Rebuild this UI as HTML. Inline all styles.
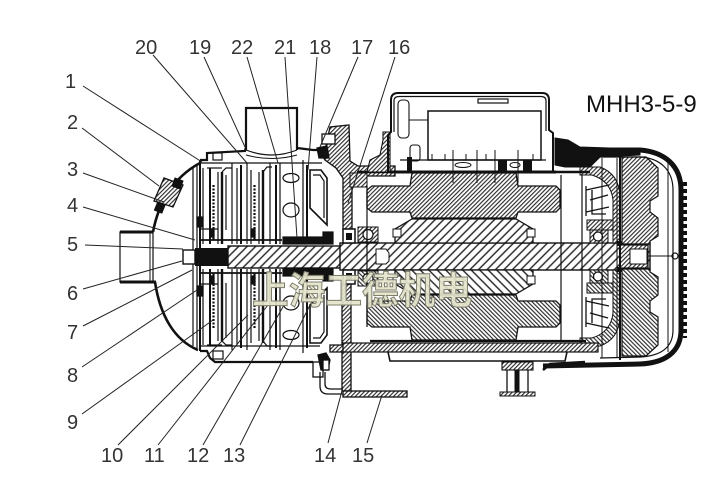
<!DOCTYPE html>
<html><head><meta charset="utf-8"><style>
html,body{margin:0;padding:0;background:#fff;}
svg{display:block;}
.lb{font-family:"Liberation Sans",sans-serif;font-size:20px;fill:#333;}
</style></head><body>
<svg width="726" height="499" viewBox="0 0 726 499" xmlns="http://www.w3.org/2000/svg">
<defs>
<pattern id="h" width="3" height="3" patternUnits="userSpaceOnUse" patternTransform="rotate(45)"><rect width="3" height="3" fill="#fff"/><line x1="0.6" y1="0" x2="0.6" y2="3" stroke="#222" stroke-width="1.1"/></pattern>
<pattern id="hr" width="6" height="6" patternUnits="userSpaceOnUse" patternTransform="rotate(45)"><rect width="6" height="6" fill="#fff"/><line x1="1" y1="0" x2="1" y2="6" stroke="#222" stroke-width="1.4"/></pattern>

<g id="pumpU" stroke="#111" fill="none" stroke-width="1.2">
 <line x1="200" y1="229" x2="218" y2="229"/>
 <line x1="200" y1="240" x2="282" y2="240" stroke-width="1.8"/>
 <line x1="203" y1="168" x2="203" y2="244"/>
 <line x1="207" y1="168" x2="222" y2="168"/>
 <line x1="210" y1="168" x2="210" y2="244" stroke-width="2"/>
 <line x1="213.5" y1="185" x2="213.5" y2="240" stroke-dasharray="2,1.5" stroke-width="2.2"/>
 <line x1="218" y1="172" x2="218" y2="244"/>
 <line x1="222" y1="172" x2="222" y2="244" stroke-width="2.4"/>
 <path d="M222,172 L226,168 L232,168"/>
 <line x1="226" y1="175" x2="226" y2="230"/>
 <line x1="232" y1="163" x2="232" y2="244"/>
 <line x1="237" y1="168" x2="237" y2="244"/>
 <line x1="241" y1="165" x2="241" y2="244" stroke-width="2"/>
 <line x1="247" y1="163" x2="247" y2="244"/>
 <line x1="251" y1="170" x2="251" y2="244"/>
 <line x1="254.5" y1="185" x2="254.5" y2="240" stroke-dasharray="2,1.5" stroke-width="2.2"/>
 <line x1="259" y1="172" x2="259" y2="244"/>
 <line x1="263" y1="170" x2="263" y2="244" stroke-width="2.4"/>
 <path d="M263,172 L267,167 L272,167"/>
 <line x1="270" y1="163" x2="270" y2="244"/>
 <line x1="276" y1="165" x2="276" y2="244" stroke-width="2"/>
 <line x1="280" y1="163" x2="280" y2="244"/>
 <ellipse cx="291" cy="178" rx="8" ry="4.5"/>
 <ellipse cx="291" cy="210" rx="8" ry="7"/>
 <line x1="303" y1="160" x2="303" y2="244"/>
 <line x1="307" y1="165" x2="307" y2="244" stroke-width="2"/>
 <path d="M310,170 L321,170 L327,178 L327,225 L310,208 Z" stroke-width="1.6"/>
 <path d="M313,175 L320,175 L324,181 L324,218"/>
 <rect x="197" y="217" width="6" height="10" fill="#111"/>
 <rect x="283" y="237" width="40" height="7" fill="#111"/>
 <rect x="323" y="232" width="10" height="12" fill="#111"/>
 <rect x="210" y="229" width="4" height="8" fill="#111"/>
 <rect x="251" y="229" width="4" height="8" fill="#111"/>
</g>

<g id="motorU">
 <path d="M367,190 L372,186 L410,186 L412,173 L516,173 L518,186 L556,186 L560,190 L560,208 L556,212 L518,212 L516,218 L412,218 L410,212 L372,212 L367,208 Z" fill="url(#h)" stroke="#111" stroke-width="1.3"/>
 <path d="M412,219 L516,219 L533,229 L533,243 L395,243 L395,229 Z" fill="url(#hr)" stroke="#111" stroke-width="1.3"/>
 <rect x="393" y="229" width="8" height="8" fill="#fff" stroke="#111"/>
 <rect x="527" y="229" width="8" height="8" fill="#fff" stroke="#111"/>
 <rect x="358" y="227" width="20" height="15" fill="url(#h)" stroke="#111"/>
 <circle cx="368" cy="234.5" r="5" fill="#fff" stroke="#111" stroke-width="1.2"/>
 <rect x="343" y="229" width="12" height="14" fill="#fff" stroke="#111" stroke-width="1.5"/>
 <rect x="346" y="233" width="6" height="7" fill="#111"/>
 <rect x="590" y="230" width="18" height="13" fill="url(#h)" stroke="#111"/>
 <circle cx="598" cy="236.5" r="4.5" fill="#fff" stroke="#111" stroke-width="1.2"/>
 <path d="M580,167 L600,167 Q619,174 620,196 L620,243 L613,243 L613,200 Q611,181 592,175 L580,175 Z" fill="url(#h)" stroke="#111"/>
 <path d="M587,220 L613,220 L613,230 L587,230 Z" fill="url(#h)" stroke="#111"/>
 <g stroke="#111" stroke-width="1.3" fill="none">
  <path d="M586,186 L586,216"/>
  <path d="M586,190 L609,185"/>
  <path d="M590,200 L608,195"/>
  <path d="M586,212 L609,207"/>
  <path d="M592,190 L592,214 L606,214"/>
 </g>
 <path d="M622,157 L646,157 L658,168 L658,196 L650,201 L650,212 L658,218 L658,236 L650,241 L650,244 L622,244 Z" fill="url(#h)" stroke="#111" stroke-width="1.2"/>
 <rect x="617" y="241" width="5" height="5" fill="#111"/>
</g>
</defs>

<!-- ============ PUMP ============ -->
<g stroke="#111" fill="none">
 <rect x="120" y="232" width="33" height="50" stroke-width="1.2" fill="#fff"/>
 <line x1="120" y1="232" x2="153" y2="232" stroke-width="3"/>
 <line x1="120" y1="282" x2="156" y2="282" stroke-width="3"/>
 <line x1="150" y1="232" x2="150" y2="282" stroke-width="1"/>
 <path d="M153,232 C158,205 172,178 200,163" stroke-width="2.6"/>
 <path d="M155,282 C160,315 174,340 198,350" stroke-width="2.6"/>
 <line x1="193" y1="166" x2="193" y2="346" stroke-width="1.2"/>
 <line x1="197" y1="164" x2="197" y2="348" stroke-width="1.2"/>
 <line x1="200" y1="160" x2="200" y2="351" stroke-width="2"/>
 <path d="M200,160 L207,160 L207,153 L245,151 L246,147" stroke-width="2.2"/>
 <path d="M297,148 L313,150 L322,150" stroke-width="2.2"/>
 <rect x="213" y="153" width="9" height="7" stroke-width="1.2"/>
 <line x1="200" y1="163" x2="322" y2="163" stroke-width="1.3"/>
 <path d="M246,150 L246,108 L297,108 L297,150" stroke-width="2.2" fill="#fff"/>
 <path d="M246,150 Q272,160 297,150" stroke-width="1.2"/>
 <path d="M246,155 Q272,162 297,155" stroke-width="1"/>
 <path d="M200,351 L207,351 L210,358 L215,362 L313,362" stroke-width="2.2"/>
 <line x1="200" y1="346" x2="320" y2="346" stroke-width="1.3"/>
 <rect x="213" y="351" width="10" height="8" stroke-width="1.2"/>
 <rect x="313" y="362" width="10" height="15" stroke-width="1.3"/>
 <path d="M154,201 L164,178 L183,185 L173,207 Z" fill="url(#h)" stroke-width="1.3"/>
 <path d="M175,178 L183,181 L180,189 L172,186 Z" fill="#111"/>
 <rect x="156" y="203" width="8" height="9" fill="#111" transform="rotate(22 160 207)"/>
</g>
<use href="#pumpU"/>
<use href="#pumpU" transform="matrix(1 0 0 -1 0 513)"/>

<!-- bracket -->
<g stroke="#111" stroke-width="1.3">
 <path d="M320,152 L326,146 L330,127 L349,125 L350,161 L358,166 L395,166 L395,176 L358,176 L352,180 L352,229 L343,229 L343,178 L336,168 L325,160 Z" fill="url(#h)"/>
 <rect x="322" y="134" width="13" height="10" fill="#fff"/>
 <path d="M317,148 L327,146 L329,158 L319,158 Z" fill="#111"/>
 <rect x="342" y="284" width="9" height="107" fill="url(#h)"/>
 <path d="M330,345 L343,345 L343,352 L330,352 Z" fill="url(#h)"/>
 <path d="M318,355 L326,353 L330,360 L328,370 L321,370 Z" fill="#111"/>
 <rect x="323" y="360" width="6" height="10" fill="#fff"/>
</g>
<g stroke="#111" fill="none" stroke-width="1.3">
 <path d="M320,372 L320,386 Q320,394 328,394 L345,394"/>
 <path d="M325,372 L325,384 Q325,389 331,389 L343,389"/>
 <rect x="343" y="391" width="64" height="6" fill="url(#h)"/>
</g>

<!-- shaft -->
<rect x="228" y="246" width="120" height="22" fill="url(#hr)" stroke="#111" stroke-width="1.4"/>
<rect x="340" y="243" width="310" height="27" fill="url(#hr)" stroke="#111" stroke-width="1.4"/>
<rect x="195" y="248" width="33" height="18" fill="#111"/>
<rect x="183" y="250" width="12" height="14" fill="#fff" stroke="#111" stroke-width="1.4"/>
<path d="M376,249 L386,249 L389,253 L389,261 L386,264 L376,264 Z" fill="#fff" stroke="#111"/>

<!-- motor -->
<use href="#motorU"/>
<use href="#motorU" transform="matrix(1 0 0 -1 0 513)"/>
<rect x="620" y="245" width="28" height="23" fill="url(#h)" stroke="#111" stroke-width="1.2"/>
<rect x="630" y="249" width="17" height="15" fill="#fff" stroke="#111"/>
<g stroke="#111" fill="none">
 <line x1="357" y1="172" x2="590" y2="172" stroke-width="2.5"/>
 <line x1="367" y1="186" x2="367" y2="327" stroke-width="1.2"/>
 <line x1="561" y1="175" x2="561" y2="340" stroke-width="1.2"/>
 <line x1="582" y1="175" x2="582" y2="340" stroke-width="1.2"/>
 <line x1="602" y1="158" x2="602" y2="358" stroke-width="1"/>
 <line x1="617" y1="158" x2="617" y2="358" stroke-width="1"/>
 <rect x="343" y="343" width="255" height="9" fill="url(#h)" stroke-width="1.2"/>
 <line x1="370" y1="341" x2="586" y2="341" stroke-width="2.2"/>
 <path d="M388,352 L390,361 L565,361 L567,352" stroke-width="1.6"/>
 <path d="M350,173 L367,173 L367,187 L350,187 Z" fill="url(#h)" stroke-width="1"/>
 <path d="M383,132 L390,132 L390,172 L367,172 L370,160 L380,155 L383,140 Z" fill="url(#h)" stroke-width="1.1"/>
 <rect x="502" y="362" width="31" height="8" fill="url(#h)" stroke-width="1.1"/>
 <line x1="507" y1="370" x2="507" y2="392" stroke-width="1.3"/>
 <line x1="528" y1="370" x2="528" y2="392" stroke-width="1.3"/>
 <rect x="515" y="370" width="4" height="22" fill="#111"/>
 <rect x="500" y="392" width="35" height="4" fill="url(#h)" stroke-width="1"/>
</g>

<!-- terminal box -->
<g stroke="#111" fill="none">
 <path d="M388,172 L388,135 L391,132 L391,100 Q391,93 398,93 L542,93 Q549,93 549,100 L549,130 L553,133 L553,172" stroke-width="2"/>
 <path d="M394,132 L394,101 Q394,96.5 399,96.5 L541,96.5 Q546,96.5 546,101 L546,131" stroke-width="1.2"/>
 <rect x="398" y="100" width="11" height="38" rx="4" stroke-width="1.1"/>
 <line x1="409" y1="120" x2="428" y2="120" stroke-width="1"/>
 <rect x="428" y="111" width="113" height="49" fill="#fff" stroke-width="1.5"/>
 <rect x="478" y="99" width="30" height="4" stroke-width="1.2"/>
 <line x1="400" y1="160" x2="546" y2="160" stroke-width="1.3"/>
 <rect x="410" y="145" width="10" height="16" rx="3" stroke-width="1.1"/>
 <line x1="390" y1="172" x2="556" y2="172" stroke-width="3"/>
 <g stroke-width="1">
  <line x1="432" y1="154" x2="432" y2="160"/><line x1="445" y1="154" x2="445" y2="160"/>
  <line x1="453" y1="150" x2="453" y2="183"/><line x1="466" y1="154" x2="466" y2="160"/>
  <line x1="477" y1="150" x2="477" y2="183"/><line x1="486" y1="154" x2="486" y2="160"/>
  <line x1="495" y1="150" x2="495" y2="183"/><line x1="518" y1="150" x2="518" y2="183"/>
  <line x1="533" y1="154" x2="533" y2="160"/>
 </g>
 <ellipse cx="463" cy="165" rx="8" ry="2.5" stroke-width="1"/>
 <ellipse cx="515" cy="165" rx="5" ry="2.5" stroke-width="1"/>
</g>
<rect x="498" y="160" width="9" height="12" fill="#111"/>
<rect x="523" y="160" width="9" height="12" fill="#111"/>
<rect x="407" y="157" width="5" height="15" fill="#111"/>

<!-- fan cover -->
<g stroke="#111" fill="none">
 <path d="M555,138 L568,140 L580,147 L640,149 L640,155 L600,157 L590,167 L565,167 L555,165 Z" fill="#111"/>
 <path d="M560,150 L640,150 C665,152 681,166 681,190 L681,330 C681,352 665,363 640,364 L543,366" stroke-width="5"/>
 <path d="M600,157 L640,157 C660,158 673,170 673,190 L673,330 C673,348 660,356 640,357 L600,358" stroke-width="1.2"/>
 <line x1="685" y1="182" x2="685" y2="338" stroke-width="4" stroke-dasharray="4,3"/>
 <line x1="620" y1="155" x2="620" y2="360" stroke-width="2"/>
 <line x1="668" y1="163" x2="668" y2="352" stroke-width="1"/>
 <line x1="648" y1="256" x2="672" y2="256" stroke-width="1"/>
 <circle cx="675" cy="256" r="3" stroke-width="1.2"/>
 <path d="M543,370 L550,364 L585,362" stroke-width="2.5"/>
</g>

<!-- leader lines -->
<g stroke="#222" stroke-width="1" fill="none">
 <line x1="83" y1="86" x2="202" y2="162"/>
 <line x1="82" y1="128" x2="159" y2="186"/>
 <line x1="83" y1="173" x2="164" y2="202"/>
 <line x1="83" y1="207" x2="195" y2="240"/>
 <line x1="85" y1="245" x2="183" y2="249"/>
 <line x1="83" y1="289" x2="182" y2="261"/>
 <line x1="83" y1="326" x2="192" y2="270"/>
 <line x1="82" y1="367" x2="197" y2="290"/>
 <line x1="82" y1="414" x2="213" y2="320"/>
 <line x1="118" y1="445" x2="248" y2="315"/>
 <line x1="158" y1="445" x2="268" y2="305"/>
 <line x1="203" y1="445" x2="287" y2="300"/>
 <line x1="240" y1="445" x2="310" y2="305"/>
 <line x1="328" y1="443" x2="343" y2="387"/>
 <line x1="367" y1="443" x2="382" y2="395"/>
 <line x1="153" y1="55" x2="247" y2="163"/>
 <line x1="204" y1="57" x2="245" y2="147"/>
 <line x1="247" y1="57" x2="278" y2="163"/>
 <line x1="285" y1="57" x2="297" y2="238"/>
 <line x1="317" y1="57" x2="308" y2="170"/>
 <line x1="358" y1="57" x2="320" y2="147"/>
 <line x1="395" y1="57" x2="348" y2="203"/>
</g>

<g class="lb">
 <text x="135" y="54">20</text>
 <text x="189" y="54">19</text>
 <text x="231" y="54">22</text>
 <text x="274" y="54">21</text>
 <text x="309" y="54">18</text>
 <text x="351" y="54">17</text>
 <text x="388" y="54">16</text>
 <text x="65" y="88">1</text>
 <text x="67" y="129">2</text>
 <text x="67" y="176">3</text>
 <text x="67" y="212">4</text>
 <text x="67" y="251">5</text>
 <text x="67" y="300">6</text>
 <text x="67" y="339">7</text>
 <text x="67" y="382">8</text>
 <text x="67" y="429">9</text>
 <text x="101" y="462">10</text>
 <text x="144" y="462">11</text>
 <text x="187" y="462">12</text>
 <text x="223" y="462">13</text>
 <text x="314" y="462">14</text>
 <text x="352" y="462">15</text>
</g>
<text x="586" y="112" style="font-family:'Liberation Sans',sans-serif;font-size:24px;fill:#111;">MHH3-5-9</text>

<!-- watermark -->
<text x="252" y="304" textLength="220" lengthAdjust="spacingAndGlyphs" style="font-family:'Liberation Sans','Noto Sans CJK SC',sans-serif;font-size:38px;font-weight:bold;" fill="#e4e4cc" fill-opacity="0.92" stroke="#7d7d6a" stroke-width="1">上海工德机电</text>
</svg>
</body></html>
